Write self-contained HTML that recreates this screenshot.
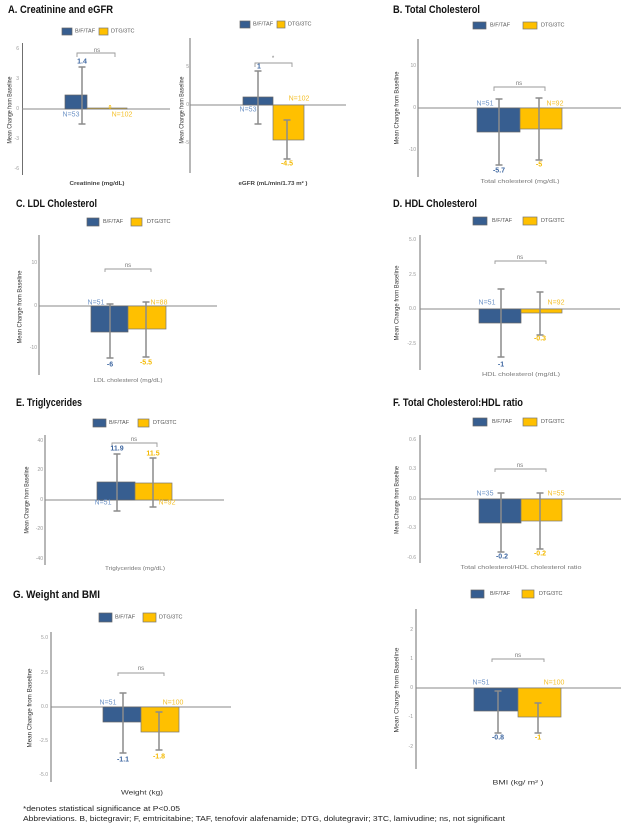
<!DOCTYPE html>
<html><head><meta charset="utf-8"><style>
html,body{margin:0;padding:0;background:#fff;}
svg{display:block;font-family:"Liberation Sans",Arial,sans-serif;}
text{font-family:"Liberation Sans",Arial,sans-serif;}
.t{font-size:11px;font-weight:bold;fill:#111;}
.tk{font-size:5px;fill:#999;text-anchor:end;dominant-baseline:central;}
.lg{font-size:5.5px;fill:#555;dominant-baseline:central;}
.yl{font-size:6.5px;fill:#333;text-anchor:middle;dominant-baseline:central;}
.xl{font-size:5.5px;fill:#777;text-anchor:middle;dominant-baseline:central;font-family:"Liberation Sans",Arial,sans-serif;}
.xd{font-size:6.5px;fill:#333;text-anchor:middle;dominant-baseline:central;font-family:"Liberation Sans",Arial,sans-serif;}
.vb{font-size:7px;font-weight:bold;fill:#3d66a0;text-anchor:middle;dominant-baseline:central;}
.vy{font-size:7px;font-weight:bold;fill:#f4b900;text-anchor:middle;dominant-baseline:central;}
.nb{font-size:7px;fill:#6d93c6;text-anchor:middle;dominant-baseline:central;}
.ny{font-size:7px;fill:#f5c02a;text-anchor:middle;dominant-baseline:central;}
.ns{font-size:6px;fill:#777;text-anchor:middle;dominant-baseline:central;}
.ax{stroke:#6f6f6f;stroke-width:1;fill:none;}
.zl{stroke:#8a8a8a;stroke-width:1;fill:none;}
.bb{fill:#375e90;stroke:#666;stroke-width:0.7;}
.by{fill:#ffc000;stroke:#777;stroke-width:0.7;}
.eb{stroke:#8c8c8c;stroke-width:1.5;fill:none;}
.br{stroke:#999;stroke-width:0.9;fill:none;}
.ft{font-size:7.5px;fill:#222;font-family:"Liberation Sans",Arial,sans-serif;}
</style></head><body>
<svg width="627" height="830" viewBox="0 0 627 830" xmlns="http://www.w3.org/2000/svg" font-family="Liberation Sans, Arial, sans-serif">
<rect width="627" height="830" fill="#fff"/>

<!-- Titles -->
<text class="t" x="8" y="13" textLength="105" lengthAdjust="spacingAndGlyphs">A. Creatinine and eGFR</text>
<text class="t" x="393" y="13" textLength="87" lengthAdjust="spacingAndGlyphs">B. Total Cholesterol</text>
<text class="t" x="16" y="207" textLength="81" lengthAdjust="spacingAndGlyphs">C. LDL Cholesterol</text>
<text class="t" x="393" y="207" textLength="84" lengthAdjust="spacingAndGlyphs">D. HDL Cholesterol</text>
<text class="t" x="16" y="406" textLength="66" lengthAdjust="spacingAndGlyphs">E. Triglycerides</text>
<text class="t" x="393" y="406" textLength="130" lengthAdjust="spacingAndGlyphs">F. Total Cholesterol:HDL ratio</text>
<text class="t" x="13" y="598" textLength="87" lengthAdjust="spacingAndGlyphs">G. Weight and BMI</text>

<!-- ===== Panel A1 Creatinine ===== -->
<rect class="bb" x="62" y="28" width="10" height="7"/><text class="lg" x="75" y="31.5">B/F/TAF</text>
<rect class="by" x="99" y="28" width="9" height="7"/><text class="lg" x="111" y="31.5">DTG/3TC</text>
<line class="ax" x1="22.5" y1="43" x2="22.5" y2="175"/>
<text class="tk" x="19" y="49">6</text><text class="tk" x="19" y="79">3</text><text class="tk" x="19" y="109">0</text><text class="tk" x="19" y="139">-3</text><text class="tk" x="19" y="169">-6</text>
<line class="zl" x1="22" y1="109" x2="170" y2="109"/>
<rect class="bb" x="65" y="95" width="22" height="14"/>
<rect class="by" x="87" y="108" width="40" height="1"/>
<path class="eb" d="M82,67V124M78.5,67H85.5M78.5,124H85.5"/>
<path class="br" d="M77,57V53H115V57"/><text class="ns" x="97" y="51">ns</text>
<text class="vb" x="82" y="62">1.4</text>
<text class="vy" x="110" y="108" style="font-size:5px">0</text>
<text class="nb" x="71" y="115">N=53</text><text class="ny" x="122" y="115">N=102</text>
<text class="xd" x="97" y="184" style="font-size:5.5px;font-weight:bold;fill:#444" textLength="55" lengthAdjust="spacingAndGlyphs">Creatinine (mg/dL)</text>
<text class="yl" transform="translate(10,110) rotate(-90)" textLength="67" lengthAdjust="spacingAndGlyphs">Mean Change from Baseline</text>

<!-- ===== Panel A2 eGFR ===== -->
<rect class="bb" x="240" y="21" width="10" height="7"/><text class="lg" x="253" y="24.5">B/F/TAF</text>
<rect class="by" x="277" y="21" width="8" height="7"/><text class="lg" x="288" y="24.5">DTG/3TC</text>
<line class="ax" x1="190" y1="38" x2="190" y2="173"/>
<text class="tk" x="189" y="67">5</text><text class="tk" x="189" y="105">0</text><text class="tk" x="189" y="143">-5</text>
<line class="zl" x1="190" y1="105" x2="346" y2="105"/>
<rect class="bb" x="243" y="97" width="30" height="8"/>
<rect class="by" x="273" y="105" width="31" height="35"/>
<path class="eb" d="M258,71V124M254.5,71H261.5M254.5,124H261.5"/>
<path class="eb" d="M287,120V159M283.5,120H290.5M283.5,159H290.5"/>
<path class="br" d="M255,67V63H292V67"/><text class="ns" x="273" y="59">*</text>
<text class="vb" x="259" y="67">1</text>
<text class="nb" x="248" y="110">N=53</text><text class="ny" x="299" y="99">N=102</text>
<text class="vy" x="287" y="164">-4.5</text>
<text class="xd" x="273" y="184" style="font-size:5.5px;font-weight:bold;fill:#444" textLength="69" lengthAdjust="spacingAndGlyphs">eGFR (mL/min/1.73 m² )</text>
<text class="yl" transform="translate(182,110) rotate(-90)" textLength="67" lengthAdjust="spacingAndGlyphs">Mean Change from Baseline</text>

<!-- ===== Panel B Total Cholesterol ===== -->
<rect class="bb" x="473" y="22" width="13" height="7"/><text class="lg" x="490" y="25.5">B/F/TAF</text>
<rect class="by" x="523" y="22" width="14" height="7"/><text class="lg" x="541" y="25.5">DTG/3TC</text>
<line class="ax" x1="418" y1="39" x2="418" y2="177"/>
<text class="tk" x="416" y="66">10</text><text class="tk" x="416" y="108">0</text><text class="tk" x="416" y="150">-10</text>
<line class="zl" x1="418" y1="108" x2="621" y2="108"/>
<rect class="bb" x="477" y="108" width="43" height="24"/>
<rect class="by" x="520" y="108" width="42" height="21"/>
<path class="eb" d="M499,99V165M495.5,99H502.5M495.5,165H502.5"/>
<path class="eb" d="M539,98V160M535.5,98H542.5M535.5,160H542.5"/>
<path class="br" d="M494,91V87H545V91"/><text class="ns" x="519" y="84">ns</text>
<text class="nb" x="485" y="104">N=51</text><text class="ny" x="555" y="104">N=92</text>
<text class="vb" x="499" y="171">-5.7</text><text class="vy" x="539" y="165">-5</text>
<text class="xl" x="520" y="182" textLength="79" lengthAdjust="spacingAndGlyphs">Total cholesterol (mg/dL)</text>
<text class="yl" transform="translate(397,108) rotate(-90)" textLength="73" lengthAdjust="spacingAndGlyphs">Mean Change from Baseline</text>

<!-- ===== Panel C LDL ===== -->
<rect class="bb" x="87" y="218" width="12" height="8"/><text class="lg" x="103" y="222">B/F/TAF</text>
<rect class="by" x="131" y="218" width="11" height="8"/><text class="lg" x="147" y="222">DTG/3TC</text>
<line class="ax" x1="39" y1="235" x2="39" y2="375"/>
<text class="tk" x="37" y="263">10</text><text class="tk" x="37" y="306">0</text><text class="tk" x="37" y="348">-10</text>
<line class="zl" x1="39" y1="306" x2="217" y2="306"/>
<rect class="bb" x="91" y="306" width="37" height="26"/>
<rect class="by" x="128" y="306" width="38" height="23"/>
<path class="eb" d="M110,304V358M106.5,304H113.5M106.5,358H113.5"/>
<path class="eb" d="M146,302V357M142.5,302H149.5M142.5,357H149.5"/>
<path class="br" d="M105,272V269H151V272"/><text class="ns" x="128" y="266">ns</text>
<text class="nb" x="96" y="303">N=51</text><text class="ny" x="159" y="303">N=88</text>
<text class="vb" x="110" y="365">-6</text><text class="vy" x="146" y="363">-5.5</text>
<text class="xl" x="128" y="381" textLength="69" lengthAdjust="spacingAndGlyphs">LDL cholesterol (mg/dL)</text>
<text class="yl" transform="translate(20,307) rotate(-90)" textLength="73" lengthAdjust="spacingAndGlyphs">Mean Change from Baseline</text>

<!-- ===== Panel D HDL ===== -->
<rect class="bb" x="473" y="217" width="14" height="8"/><text class="lg" x="492" y="221">B/F/TAF</text>
<rect class="by" x="523" y="217" width="14" height="8"/><text class="lg" x="541" y="221">DTG/3TC</text>
<line class="ax" x1="420" y1="235" x2="420" y2="370"/>
<text class="tk" x="416" y="240">5.0</text><text class="tk" x="416" y="275">2.5</text><text class="tk" x="416" y="309">0.0</text><text class="tk" x="416" y="344">-2.5</text>
<line class="zl" x1="420" y1="309" x2="620" y2="309"/>
<rect class="bb" x="479" y="309" width="42" height="14"/>
<rect class="by" x="521" y="309" width="41" height="4"/>
<path class="eb" d="M501,289V357M497.5,289H504.5M497.5,357H504.5"/>
<path class="eb" d="M540,292V335M536.5,292H543.5M536.5,335H543.5"/>
<path class="br" d="M495,264V261H546V264"/><text class="ns" x="520" y="258">ns</text>
<text class="nb" x="487" y="303">N=51</text><text class="ny" x="556" y="303">N=92</text>
<text class="vy" x="540" y="339">-0.3</text><text class="vb" x="501" y="365">-1</text>
<text class="xl" x="521" y="375" textLength="78" lengthAdjust="spacingAndGlyphs">HDL cholesterol (mg/dL)</text>
<text class="yl" transform="translate(397,303) rotate(-90)" textLength="75" lengthAdjust="spacingAndGlyphs">Mean Change from Baseline</text>

<!-- ===== Panel E Triglycerides ===== -->
<rect class="bb" x="93" y="419" width="13" height="8"/><text class="lg" x="109" y="423">B/F/TAF</text>
<rect class="by" x="138" y="419" width="11" height="8"/><text class="lg" x="153" y="423">DTG/3TC</text>
<line class="ax" x1="45" y1="435" x2="45" y2="565"/>
<text class="tk" x="43" y="441">40</text><text class="tk" x="43" y="470">20</text><text class="tk" x="43" y="500">0</text><text class="tk" x="43" y="529">-20</text><text class="tk" x="43" y="559">-40</text>
<line class="zl" x1="45" y1="500" x2="224" y2="500"/>
<rect class="bb" x="97" y="482" width="38" height="18"/>
<rect class="by" x="135" y="483" width="37" height="17"/>
<path class="eb" d="M117,454V511M113.5,454H120.5M113.5,511H120.5"/>
<path class="eb" d="M153,458V507M149.5,458H156.5M149.5,507H156.5"/>
<path class="br" d="M112,447V443H157V447"/><text class="ns" x="134" y="440">ns</text>
<text class="vb" x="117" y="449">11.9</text><text class="vy" x="153" y="454">11.5</text>
<text class="nb" x="103" y="503">N=51</text><text class="ny" x="167" y="503">N=92</text>
<text class="xl" x="135" y="569" textLength="60" lengthAdjust="spacingAndGlyphs">Triglycerides (mg/dL)</text>
<text class="yl" transform="translate(27,500) rotate(-90)" textLength="67" lengthAdjust="spacingAndGlyphs">Mean Change from Baseline</text>

<!-- ===== Panel F TC:HDL ===== -->
<rect class="bb" x="473" y="418" width="14" height="8"/><text class="lg" x="492" y="422">B/F/TAF</text>
<rect class="by" x="523" y="418" width="14" height="8"/><text class="lg" x="541" y="422">DTG/3TC</text>
<line class="ax" x1="420" y1="435" x2="420" y2="563"/>
<text class="tk" x="416" y="440">0.6</text><text class="tk" x="416" y="469">0.3</text><text class="tk" x="416" y="499">0.0</text><text class="tk" x="416" y="528">-0.3</text><text class="tk" x="416" y="558">-0.6</text>
<line class="zl" x1="420" y1="499" x2="621" y2="499"/>
<rect class="bb" x="479" y="499" width="42" height="24"/>
<rect class="by" x="521" y="499" width="41" height="22"/>
<path class="eb" d="M501,493V552M497.5,493H504.5M497.5,552H504.5"/>
<path class="eb" d="M540,493V549M536.5,493H543.5M536.5,549H543.5"/>
<path class="br" d="M495,472V469H546V472"/><text class="ns" x="520" y="466">ns</text>
<text class="nb" x="485" y="494">N=35</text><text class="ny" x="556" y="494">N=55</text>
<text class="vb" x="502" y="557">-0.2</text><text class="vy" x="540" y="554">-0.2</text>
<text class="xl" x="521" y="568" textLength="121" lengthAdjust="spacingAndGlyphs">Total cholesterol/HDL cholesterol ratio</text>
<text class="yl" transform="translate(397,500) rotate(-90)" textLength="68" lengthAdjust="spacingAndGlyphs">Mean Change from Baseline</text>

<!-- ===== Panel G Weight ===== -->
<rect class="bb" x="99" y="613" width="13" height="9"/><text class="lg" x="115" y="617.5">B/F/TAF</text>
<rect class="by" x="143" y="613" width="13" height="9"/><text class="lg" x="159" y="617.5">DTG/3TC</text>
<line class="ax" x1="51" y1="632" x2="51" y2="782"/>
<text class="tk" x="48" y="638">5.0</text><text class="tk" x="48" y="673">2.5</text><text class="tk" x="48" y="707">0.0</text><text class="tk" x="48" y="741">-2.5</text><text class="tk" x="48" y="775">-5.0</text>
<line class="zl" x1="51" y1="707" x2="231" y2="707"/>
<rect class="bb" x="103" y="707" width="38" height="15"/>
<rect class="by" x="141" y="707" width="38" height="25"/>
<path class="eb" d="M123,693V753M119.5,693H126.5M119.5,753H126.5"/>
<path class="eb" d="M159,712V750M155.5,712H162.5M155.5,750H162.5"/>
<path class="br" d="M118,676V673H164V676"/><text class="ns" x="141" y="669">ns</text>
<text class="nb" x="108" y="703">N=51</text><text class="ny" x="173" y="703">N=100</text>
<text class="vb" x="123" y="760">-1.1</text><text class="vy" x="159" y="757">-1.8</text>
<text class="xd" x="142" y="793" textLength="42" lengthAdjust="spacingAndGlyphs">Weight (kg)</text>
<text class="yl" transform="translate(30,708) rotate(-90)" textLength="79" lengthAdjust="spacingAndGlyphs">Mean Change from Baseline</text>

<!-- ===== Panel BMI ===== -->
<rect class="bb" x="471" y="590" width="13" height="8"/><text class="lg" x="490" y="594">B/F/TAF</text>
<rect class="by" x="522" y="590" width="12" height="8"/><text class="lg" x="539" y="594">DTG/3TC</text>
<line class="ax" x1="416" y1="609" x2="416" y2="769"/>
<text class="tk" x="413" y="630">2</text><text class="tk" x="413" y="659">1</text><text class="tk" x="413" y="688">0</text><text class="tk" x="413" y="717">-1</text><text class="tk" x="413" y="747">-2</text>
<line class="zl" x1="416" y1="688" x2="621" y2="688"/>
<rect class="bb" x="474" y="688" width="44" height="23"/>
<rect class="by" x="518" y="688" width="43" height="29"/>
<path class="eb" d="M498,691V733M494.5,691H501.5M494.5,733H501.5"/>
<path class="eb" d="M538,703V733M534.5,703H541.5M534.5,733H541.5"/>
<path class="br" d="M492,662V659H544V662"/><text class="ns" x="518" y="656">ns</text>
<text class="nb" x="481" y="683">N=51</text><text class="ny" x="554" y="683">N=100</text>
<text class="vb" x="498" y="738">-0.8</text><text class="vy" x="538" y="738">-1</text>
<text class="xd" x="518" y="783" textLength="51" lengthAdjust="spacingAndGlyphs">BMI (kg/ m² )</text>
<text class="yl" transform="translate(397,690) rotate(-90)" textLength="85" lengthAdjust="spacingAndGlyphs">Mean Change from Baseline</text>

<!-- Footnotes -->
<text class="ft" x="23" y="811" textLength="157" lengthAdjust="spacingAndGlyphs">*denotes statistical significance at P&lt;0.05</text>
<text class="ft" x="23" y="821" textLength="482" lengthAdjust="spacingAndGlyphs">Abbreviations. B, bictegravir; F, emtricitabine; TAF,  tenofovir alafenamide; DTG, dolutegravir; 3TC, lamivudine; ns, not significant</text>
</svg>
</body></html>
